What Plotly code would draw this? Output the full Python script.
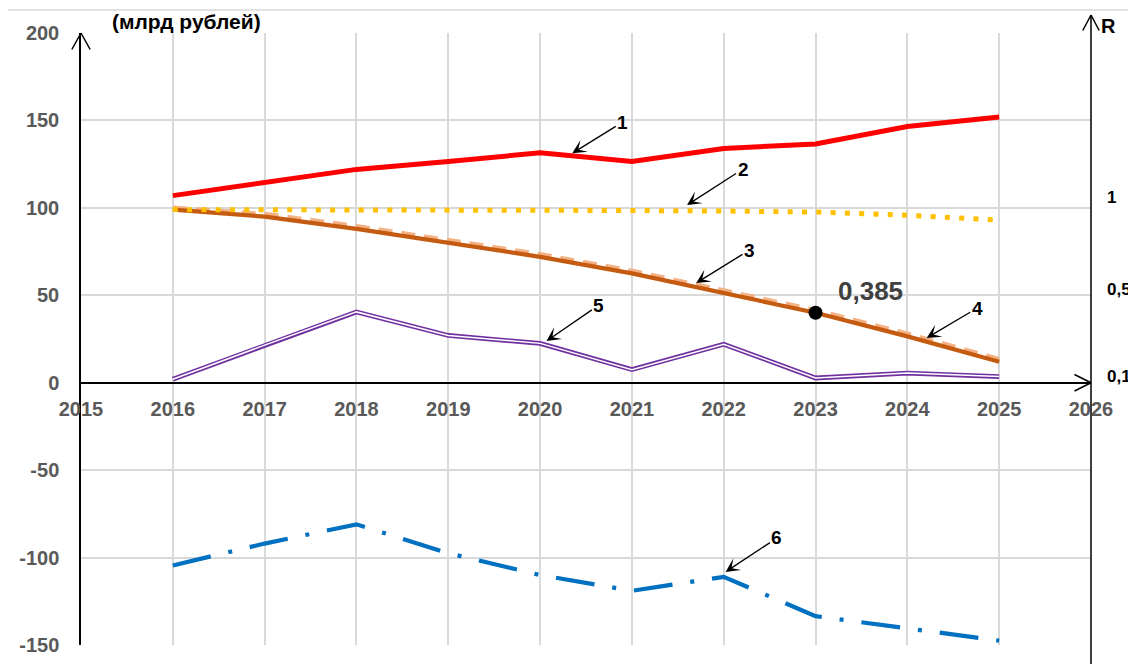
import plotly.graph_objects as go

# ---------------- data ----------------
years = [2016, 2017, 2018, 2019, 2020, 2021, 2022, 2023, 2024, 2025]
s1_red = [107, 114.5, 122, 126.5, 131.5, 126.5, 134, 136.5, 146.5, 152]
s2_yellow = [99, 99, 99, 99, 98.8, 98.5, 98.2, 97.6, 95.8, 93]
s3_dark_orange = [99, 95, 88, 80, 72, 62.5, 51, 40, 26.5, 12]
s4_light_orange = [100, 96.5, 89.5, 81.5, 73.5, 64, 52.5, 41.5, 28, 13.5]
s5_purple = [2, 21.5, 40.5, 27, 22.5, 7.5, 22, 2.7, 5.5, 3.5]
s6_blue = [-104.5, -92, -81, -97.5, -110, -119, -111, -133.5, -140.5, -147.5]

marked_year = 2023
marked_label = "0,385"

x_ticks = list(range(2015, 2027))
y_ticks = [-150, -100, -50, 0, 50, 100, 150, 200]
r_tick_labels = ["1", "0,5", "0,1"]
r_tick_pos = [106.3, 53.4, 4.0]

y_title = "(млрд рублей)"
r_title = "R"

# callouts: label, tip (x, y), label position (x, y)
callout_labels = ["1", "2", "3", "4", "5", "6"]
callout_tip_x = [2020.35, 2021.60, 2021.70, 2024.21, 2020.07, 2022.02]
callout_tip_y = [131.2, 101.6, 57.0, 25.6, 23.8, -108.2]
callout_lab_x = [2020.90, 2022.21, 2022.28, 2024.76, 2020.64, 2022.58]
callout_lab_y = [149.1, 122.2, 75.9, 42.7, 44.4, -88.8]

FONT = "Liberation Sans, Arial, sans-serif"
XMIN, XMAX = 2015, 2026
YMIN, YMAX = -150, 200

fig = go.Figure()

fig.add_trace(go.Scatter(x=years, y=s4_light_orange, mode="lines",
                         line=dict(color="#F4B183", width=4.5, dash="14px,9px")))
fig.add_trace(go.Scatter(x=years, y=s3_dark_orange, mode="lines",
                         line=dict(color="#C55A11", width=4.2)))
fig.add_trace(go.Scatter(x=years, y=s2_yellow, mode="lines",
                         line=dict(color="#FFC000", width=5, dash="5px,9.3px")))
fig.add_trace(go.Scatter(x=years, y=s1_red, mode="lines",
                         line=dict(color="#FF0000", width=5)))
fig.add_trace(go.Scatter(x=years, y=s5_purple, mode="lines",
                         line=dict(color="#7030A0", width=4.8)))
fig.add_trace(go.Scatter(x=years, y=s5_purple, mode="lines",
                         line=dict(color="#FFFFFF", width=1.5)))
fig.add_trace(go.Scatter(x=years, y=s6_blue, mode="lines",
                         line=dict(color="#0070C0", width=4.2, dash="39px,18px,4px,18px")))

mi = years.index(marked_year)
fig.add_trace(go.Scatter(x=[marked_year], y=[s3_dark_orange[mi]], mode="markers",
                         marker=dict(color="black", size=14)))
# empty traces so the extra axes are drawn
fig.add_trace(go.Scatter(x=[], y=[], yaxis="y2", mode="lines"))
fig.add_trace(go.Scatter(x=[], y=[], xaxis="x2", mode="lines"))

annotations = []
# value label near marked point
annotations.append(dict(x=marked_year + 0.6, y=s3_dark_orange[mi] + 12.3, xref="x", yref="y",
                        text="<b>" + marked_label + "</b>", showarrow=False,
                        xanchor="center", yanchor="middle",
                        font=dict(family=FONT, size=26, color="#404040")))
# callout arrows
for lab, tx, ty, lx, ly in zip(callout_labels, callout_tip_x, callout_tip_y,
                               callout_lab_x, callout_lab_y):
    annotations.append(dict(x=tx, y=ty, ax=lx, ay=ly, xref="x", yref="y",
                            axref="x", ayref="y", text="<b>" + lab + "</b>",
                            showarrow=True, arrowhead=3, arrowsize=1.8, arrowwidth=1.3,
                            arrowcolor="black", standoff=0, startstandoff=0,
                            font=dict(family=FONT, size=19, color="black")))

# axis arrowheads (open chevrons)
def chevron(x, y, xref, yref, arms):
    for ax, ay in arms:
        annotations.append(dict(x=x, y=y, xref=xref, yref=yref, ax=ax, ay=ay,
                                text="", showarrow=True, arrowhead=0,
                                arrowwidth=1.5, arrowcolor="black"))

chevron(XMIN, YMAX, "x", "y", [(-10, 18), (10, 18)])
chevron(XMAX, 0, "x", "y", [(-18, -9), (-18, 9)])
top_right = 1 + 18 / 612.0
chevron(XMAX, top_right, "x", "paper", [(-9, 17), (9, 17)])
# right vertical axis line
annotations.append(dict(x=XMAX, y=top_right, xref="x", yref="paper", ax=0, ay=680,
                        text="", showarrow=True, arrowhead=0, arrowwidth=1.5,
                        arrowcolor="black"))

# titles
annotations.append(dict(x=0.104, y=1.018, xref="paper", yref="paper",
                        xanchor="center", yanchor="middle",
                        text="<b>" + y_title + "</b>", showarrow=False,
                        font=dict(family=FONT, size=21, color="black")))
annotations.append(dict(x=1.0178, y=1.0114, xref="paper", yref="paper",
                        xanchor="center", yanchor="middle",
                        text="<b>" + r_title + "</b>", showarrow=False,
                        font=dict(family=FONT, size=20, color="black")))

shapes = [
    dict(type="rect", xref="paper", yref="paper",
         x0=-0.0732, x1=1.3, y0=-0.3, y1=1.0376,
         line=dict(color="#d9d9d9", width=1.3), fillcolor="rgba(0,0,0,0)"),
    # keep the area below the plot clean
    dict(type="rect", xref="paper", yref="paper", layer="above",
         x0=-0.003, x1=1.0, y0=-0.2, y1=-0.0025,
         line=dict(width=0), fillcolor="white"),
]

zero_pos = (0 - YMIN) / (YMAX - YMIN)

fig.update_layout(
    width=1136, height=664, autosize=False,
    margin=dict(l=73, r=53, t=25, b=27),
    paper_bgcolor="white", plot_bgcolor="white",
    showlegend=False,
    annotations=annotations,
    shapes=shapes,
    xaxis=dict(range=[XMIN, XMAX], tickvals=x_ticks, showticklabels=False,
               showgrid=True, gridcolor="#d9d9d9", gridwidth=1.5,
               zeroline=False, showline=False, ticks=""),
    xaxis2=dict(range=[XMIN, XMAX], overlaying="x", tickvals=x_ticks,
                ticktext=["<b>%d</b>" % v for v in x_ticks],
                tickfont=dict(family=FONT, size=20, color="#595959"),
                showgrid=False, zeroline=False, showline=True,
                linecolor="black", linewidth=1.5,
                anchor="free", position=zero_pos, ticks="", ticklabelstandoff=9),
    yaxis=dict(range=[YMIN, YMAX], tickvals=y_ticks,
               ticktext=["<b>%d</b>" % v for v in y_ticks],
               tickfont=dict(family=FONT, size=20, color="#595959"),
               showgrid=True, gridcolor="#d9d9d9", gridwidth=1.5,
               zeroline=False, showline=True, linecolor="black", linewidth=1.5,
               ticks="", ticklabelstandoff=16),
    yaxis2=dict(range=[YMIN, YMAX], overlaying="y", side="right",
                tickvals=r_tick_pos, ticktext=["<b>%s</b>" % t for t in r_tick_labels],
                tickfont=dict(family=FONT, size=17, color="black"),
                showgrid=False, zeroline=False, showline=False, ticks="",
                ticklabelstandoff=15),
)

fig.write_html("out.html")
